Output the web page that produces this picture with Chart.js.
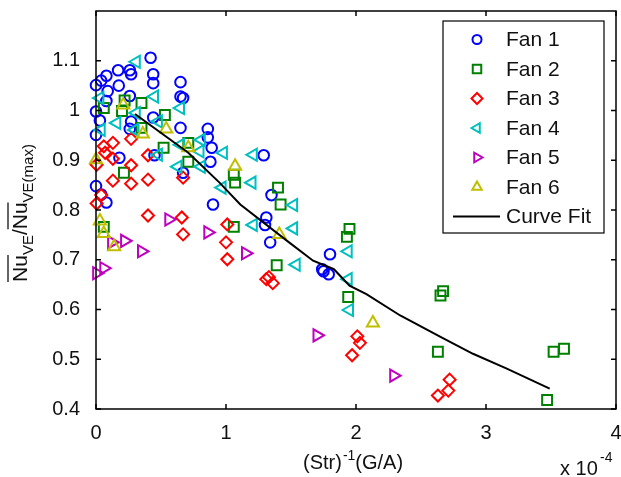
<!DOCTYPE html>
<html>
<head>
<meta charset="utf-8">
<script src="https://cdn.jsdelivr.net/npm/chart.js@4.4.0/dist/chart.umd.min.js"></script>
<style>
  body { margin: 0; background: #fff; }
</style>
</head>
<body>
<canvas id="graphicNu" width="621" height="477"></canvas>
<script>
// Nu ratio vs inverse Strouhal number (x in units of 1e-4)

const fan1X = [0.42,0.00,0.04,0.08,0.17,0.26,0.27,0.175,0.44,0.44,0.65,0.65,0.67,0.09,0.08,0.26,0.00,0.03,0.27,0.26,0.44,0.65,0.00,0.86,0.86,0.89,0.88,0.45,0.18,1.29,0.00,0.04,0.08,0.90,0.67,1.35,1.31,1.30,1.34,1.80,1.74,1.75,1.79];
const fan1Y = [1.106,1.051,1.06,1.07,1.081,1.081,1.073,1.05,1.073,1.055,1.057,1.028,1.025,1.039,1.019,1.029,0.998,0.98,0.978,0.963,0.986,0.965,0.951,0.963,0.946,0.925,0.897,0.91,0.905,0.91,0.848,0.831,0.815,0.811,0.875,0.83,0.785,0.77,0.735,0.711,0.681,0.677,0.671];

const fan2X = [0.35,0.20,0.22,0.06,0.53,0.35,0.71,0.52,0.71,0.215,1.06,1.07,1.40,1.42,1.06,0.06,1.39,1.95,1.93,1.94,2.65,2.67,2.63,3.52,3.60,3.47];
const fan2Y = [1.015,0.999,1.02,1.005,0.991,0.965,0.935,0.925,0.897,0.875,0.871,0.855,0.845,0.811,0.766,0.766,0.689,0.762,0.746,0.625,0.628,0.637,0.515,0.515,0.521,0.418];

const fan3X = [0.13,0.06,0.07,0.27,0.13,0.40,0.005,0.27,0.13,0.27,0.40,0.67,0.04,0.005,0.40,0.66,0.67,1.01,1.00,1.01,1.33,1.31,1.36,2.01,2.03,1.97,2.72,2.71,2.63];
const fan3Y = [0.935,0.928,0.915,0.943,0.903,0.91,0.891,0.89,0.859,0.853,0.861,0.865,0.83,0.813,0.789,0.785,0.751,0.771,0.735,0.701,0.665,0.661,0.653,0.546,0.533,0.508,0.459,0.437,0.427];

const fan4X = [0.31,0.03,0.45,0.65,0.31,0.16,0.30,0.04,0.48,0.65,0.81,0.80,0.98,0.48,0.63,0.81,0.97,1.20,1.21,1.52,1.52,1.21,1.54,1.94,1.94,1.95];
const fan4Y = [1.098,1.025,1.028,1.005,0.995,0.975,0.961,0.961,0.978,0.931,0.941,0.918,0.915,0.911,0.887,0.887,0.845,0.855,0.911,0.81,0.763,0.77,0.69,0.717,0.661,0.599];

const fan5X = [0.56,0.86,1.15,0.22,0.12,0.35,0.005,0.06,1.70,2.29];
const fan5Y = [0.781,0.755,0.713,0.738,0.735,0.717,0.673,0.683,0.548,0.467];

const fan6X = [0.21,0.36,0.54,0.71,1.07,0.00,0.03,0.06,0.14,1.41,2.13];
const fan6Y = [1.011,0.953,0.963,0.925,0.888,0.901,0.778,0.753,0.726,0.751,0.573];

const fitX = [0.30,0.71,0.95,1.11,1.47,1.67,1.83,1.95,2.08,2.34,2.65,2.90,3.16,3.49];
const fitY = [0.993,0.915,0.855,0.811,0.738,0.698,0.681,0.648,0.631,0.588,0.545,0.511,0.481,0.441];

const xTicks = [0, 1, 2, 3, 4];
const yTicks = [0.4, 0.5, 0.6, 0.7, 0.8, 0.9, 1, 1.1];

const FONT = '"Liberation Sans", Arial, Helvetica, sans-serif';

function toPoints(xs, ys){
  return xs.map(function(x, i){ return {x: x, y: ys[i]}; });
}

function fanSet(label, xs, ys, color, style, radius, rotation, order){
  return {
    label: label,
    data: toPoints(xs, ys),
    borderColor: color,
    backgroundColor: 'rgba(0,0,0,0)',
    pointStyle: style,
    pointRadius: radius,
    pointHoverRadius: radius,
    pointRotation: rotation,
    pointBorderWidth: 2,
    showLine: false,
    clip: false,
    order: order
  };
}

const series = [
  fanSet('Fan 1', fan1X, fan1Y, '#0000ff', 'circle', 5.3, 0, 7),
  fanSet('Fan 2', fan2X, fan2Y, '#008000', 'rect', 7, 0, 6),
  fanSet('Fan 3', fan3X, fan3Y, '#ff0000', 'rectRot', 6, 0, 5),
  fanSet('Fan 4', fan4X, fan4Y, '#00bfbf', 'triangle', 7, -90, 4),
  fanSet('Fan 5', fan5X, fan5Y, '#bf00bf', 'triangle', 7, 90, 3),
  fanSet('Fan 6', fan6X, fan6Y, '#bfbf00', 'triangle', 7, 0, 2),
  {
    label: 'Curve Fit',
    data: toPoints(fitX, fitY),
    borderColor: '#000000',
    borderWidth: 2,
    pointRadius: 0,
    showLine: true,
    fill: false,
    tension: 0,
    order: 0
  }
];

function noPad(scale){
  scale.paddingTop = 0;
  scale.paddingBottom = 0;
  scale.paddingLeft = 0;
  scale.paddingRight = 0;
}

//--- frame with inward ticks, axis titles and legend
const framePlugin = {
  id: 'framePlugin',
  afterDraw: function(chart){
    const ctx = chart.ctx;
    const a = chart.chartArea;
    const xs = chart.scales.x;
    const ys = chart.scales.y;
    ctx.save();
    ctx.strokeStyle = '#000';
    ctx.lineWidth = 1.5;
    ctx.strokeRect(a.left, a.top, a.right - a.left, a.bottom - a.top);
    ctx.beginPath();
    xTicks.forEach(function(t){
      const px = xs.getPixelForValue(t);
      ctx.moveTo(px, a.bottom); ctx.lineTo(px, a.bottom - 5);
      ctx.moveTo(px, a.top); ctx.lineTo(px, a.top + 5);
    });
    yTicks.forEach(function(t){
      const py = ys.getPixelForValue(t);
      ctx.moveTo(a.left, py); ctx.lineTo(a.left + 5, py);
      ctx.moveTo(a.right, py); ctx.lineTo(a.right - 5, py);
    });
    ctx.stroke();

    ctx.fillStyle = '#111';
    ctx.textBaseline = 'alphabetic';
    ctx.textAlign = 'left';

    // x title: (Str)^-1(G/A)
    let x = 303, base = 469;
    ctx.font = '20px ' + FONT;
    ctx.fillText('(Str)', x, base);
    x += ctx.measureText('(Str)').width + 1;
    ctx.font = '14px ' + FONT;
    ctx.fillText('-1', x, base - 9);
    x += ctx.measureText('-1').width;
    ctx.font = '20px ' + FONT;
    ctx.fillText('(G/A)', x, base);

    // exponent: x 10^-4
    ctx.font = '20px ' + FONT;
    ctx.fillText('x 10', 560, 475);
    ctx.font = '14px ' + FONT;
    ctx.fillText('-4', 600, 462);

    // y title: Nu_VE / Nu_VE(max), overlines on Nu
    ctx.save();
    ctx.translate(27, 213);
    ctx.rotate(-Math.PI / 2);
    const parts = [
      ['Nu', 21, 0, true], ['VE', 15, 6, false], ['/', 21, 0, false],
      ['Nu', 21, 0, true], ['VE(max)', 15, 6, false]
    ];
    let total = 0;
    parts.forEach(function(p){ ctx.font = p[1] + 'px ' + FONT; total += ctx.measureText(p[0]).width; });
    let px = -total / 2;
    ctx.lineWidth = 1.3;
    parts.forEach(function(p){
      ctx.font = p[1] + 'px ' + FONT;
      const w = ctx.measureText(p[0]).width;
      ctx.fillText(p[0], px, p[2]);
      if (p[3]) {
        ctx.beginPath();
        ctx.moveTo(px, -19); ctx.lineTo(px + w, -19);
        ctx.strokeStyle = '#111';
        ctx.stroke();
      }
      px += w;
    });
    ctx.restore();

    // legend
    const lx = 443, ly = 21, lw = 161, lh = 212;
    ctx.fillStyle = '#fff';
    ctx.fillRect(lx, ly, lw, lh);
    ctx.strokeStyle = '#000';
    ctx.lineWidth = 1.2;
    ctx.strokeRect(lx, ly, lw, lh);
    chart.data.datasets.forEach(function(ds, i){
      const cy = 39.5 + i * 29.5;
      if (ds.showLine) {
        ctx.beginPath();
        ctx.strokeStyle = '#000';
        ctx.lineWidth = 2;
        ctx.moveTo(453, cy); ctx.lineTo(500, cy);
        ctx.stroke();
      } else {
        ctx.strokeStyle = ds.borderColor;
        ctx.fillStyle = 'rgba(0,0,0,0)';
        ctx.lineWidth = 2;
        Chart.helpers.drawPoint(ctx, {
          pointStyle: ds.pointStyle,
          radius: ds.pointStyle === 'rect' ? 6 : (ds.pointStyle === 'circle' ? 4.5 : 5.5),
          rotation: ds.pointRotation,
          borderWidth: 2
        }, 477, cy);
      }
      ctx.fillStyle = '#111';
      ctx.font = '21px ' + FONT;
      ctx.textBaseline = 'middle';
      ctx.fillText(ds.label, 506, cy + 1);
    });
    ctx.restore();
  }
};

new Chart(document.getElementById('graphicNu').getContext('2d'), {
  type: 'scatter',
  data: { datasets: series },
  options: {
    responsive: false,
    animation: false,
    devicePixelRatio: 1,
    layout: { autoPadding: false, padding: { top: 11, right: 5, left: 0, bottom: 0 } },
    plugins: {
      legend: { display: false },
      tooltip: { enabled: false },
      title: { display: false }
    },
    scales: {
      x: {
        type: 'linear',
        min: 0, max: 4,
        grid: { display: false, drawTicks: false },
        border: { display: false },
        ticks: {
          stepSize: 1,
          padding: 12,
          color: '#111',
          font: { family: FONT, size: 20 },
          callback: function(v){ return String(v); }
        },
        afterFit: function(scale){ scale.height = 68; noPad(scale); }
      },
      y: {
        type: 'linear',
        min: 0.4, max: 1.2,
        grid: { display: false, drawTicks: false },
        border: { display: false },
        ticks: {
          stepSize: 0.1,
          padding: 16,
          color: '#111',
          font: { family: FONT, size: 20 },
          callback: function(v){
            if (Math.abs(v - 1.2) < 1e-9) return '';
            return String(+v.toFixed(1));
          }
        },
        afterFit: function(scale){ scale.width = 96; noPad(scale); }
      }
    }
  },
  plugins: [framePlugin]
});
</script>
</body>
</html>
